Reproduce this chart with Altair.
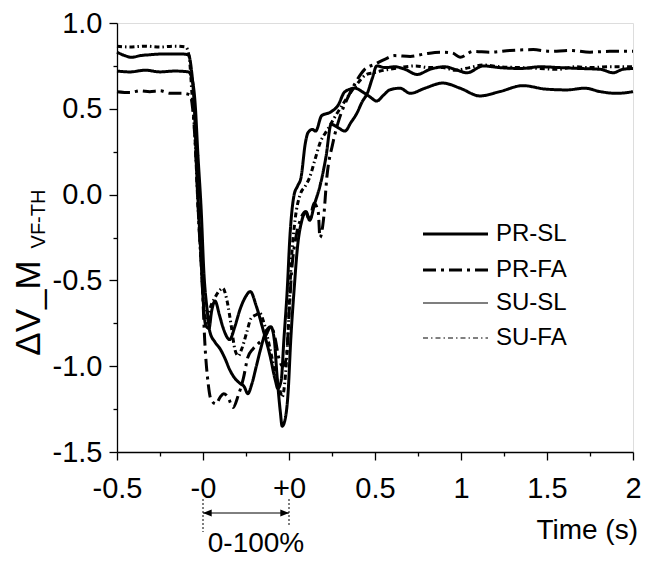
import altair as alt
import pandas as pd

# x axis positions: 0=-0.5 s, 1=onset (-0), 2=offset (+0), 3=0.5 s, 4=1 s, 5=1.5 s, 6=2 s
x_tick_pos = [0, 1, 2, 3, 4, 5, 6]
x_tick_labels = ["-0.5", "-0", "+0", "0.5", "1", "1.5", "2"]
y_tick_values = [1.0, 0.5, 0.0, -0.5, -1.0, -1.5]
y_tick_labels = ["1.0", "0.5", "0.0", "-0.5", "-1.0", "-1.5"]
series_names = ["PR-SL", "PR-FA", "SU-SL", "SU-FA"]

prsl_x = [0, .15, .33, .5, .67, .83, .87, .91, .94, .98, 1.01, 1.05, 1.08, 1.14, 1.2, 1.26, 1.31, 1.37, 1.43, 1.48,
          1.52, 1.57, 1.62, 1.67, 1.73, 1.79, 1.83, 1.86, 1.9, 1.92, 1.95, 1.99, 2.02, 2.06, 2.1, 2.15, 2.2, 2.24, 2.3,
          2.36, 2.43, 2.49, 2.57, 2.65, 2.72, 2.79, 2.85, 2.91, 2.97, 3.02, 3.12, 3.23, 3.35, 3.49, 3.64, 3.81, 3.93,
          4.07, 4.26, 4.45, 4.69, 4.92, 5.15, 5.38, 5.62, 5.77, 5.88, 6.0]
prsl_y = [.72, .715, .725, .715, .72, .715, .68, .52, .24, -.1, -.45, -.68, -.8, -.86, -.9, -.96, -1.02, -1.07, -1.1,
          -1.12, -1.16, -1.1, -1.0, -.9, -.8, -.77, -.85, -1.05, -1.27, -1.35, -1.32, -1.15, -.85, -.55, -.3, -.15, -.1,
          -.15, -.05, .05, .22, .41, .39, .37, .42, .475, .54, .59, .68, .75, .74, .745, .73, .70, .73, .745, .73, .71,
          .75, .74, .735, .745, .74, .735, .73, .71, .73, .735]

prfa_x = [0, .15, .27, .38, .5, .62, .76, .85, .88, .92, .95, .99, 1.02, 1.06, 1.09, 1.15, 1.2, 1.24, 1.29, 1.35, 1.41,
          1.47, 1.52, 1.58, 1.64, 1.72, 1.79, 1.84, 1.88, 1.93, 1.97, 2.0, 2.03, 2.08, 2.13, 2.19, 2.24, 2.29, 2.34,
          2.36, 2.4, 2.44, 2.51, 2.59, 2.67, 2.77, 2.88, 3.0, 3.12, 3.23, 3.41, 3.58, 3.76, 3.9, 3.99, 4.14, 4.34, 4.57,
          4.84, 5.03, 5.27, 5.5, 5.73, 6.0]
prfa_y = [.60, .595, .605, .6, .605, .59, .59, .58, .5, .2, -.15, -.5, -.85, -1.1, -1.19, -1.22, -1.18, -1.16, -1.18,
          -1.24, -1.17, -1.07, -.95, -.9, -.87, -.83, -.77, -.84, -.95, -1.0, -.95, -.7, -.45, -.25, -.15, -.1, -.15,
          -.05, -.1, -.25, -.15, .1, .3, .45, .55, .65, .73, .76, .79, .81, .805, .82, .83, .825, .80, .835, .83, .84,
          .845, .835, .84, .83, .835, .835]

susl_x = [0, .09, .17, .27, .38, .56, .73, .83, .86, .9, .93, .97, 1.0, 1.03, 1.07, 1.1, 1.14, 1.19, 1.23, 1.31, 1.37,
          1.43, 1.49, 1.55, 1.62, 1.7, 1.78, 1.84, 1.87, 1.91, 1.94, 1.98, 2.01, 2.06, 2.1, 2.14, 2.19, 2.22, 2.27,
          2.31, 2.38, 2.48, 2.57, 2.65, 2.77, 2.85, 2.94, 3.02, 3.1, 3.17, 3.29, 3.41, 3.58, 3.79, 3.99, 4.22, 4.45,
          4.72, 4.98, 5.23, 5.44, 5.62, 5.81, 6.0]
susl_y = [.83, .81, .80, .81, .815, .82, .82, .815, .75, .5, .1, -.3, -.6, -.76, -.78, -.68, -.62, -.7, -.77, -.845,
          -.77, -.67, -.6, -.565, -.65, -.79, -.94, -1.08, -1.13, -1.08, -.85, -.55, -.25, 0, .05, .1, .3, .36, .38,
          .37, .46, .48, .52, .6, .62, .6, .57, .545, .58, .61, .62, .59, .62, .65, .62, .575, .6, .635, .615, .61,
          .62, .6, .59, .6]

sufa_x = [0, .15, .33, .5, .67, .8, .84, .87, .91, .94, .98, 1.01, 1.05, 1.08, 1.14, 1.19, 1.23, 1.28, 1.33, 1.37, 1.41,
          1.45, 1.51, 1.56, 1.62, 1.66, 1.71, 1.78, 1.85, 1.9, 1.92, 1.95, 1.99, 2.02, 2.07, 2.13, 2.19, 2.24, 2.3,
          2.36, 2.45, 2.53, 2.63, 2.71, 2.8, 2.9, 2.98, 3.06, 3.17, 3.29, 3.47, 3.64, 3.79, 3.93, 4.1, 4.26, 4.45,
          4.69, 4.92, 5.12, 5.33, 5.5, 5.73, 6.0]
sufa_y = [.865, .86, .865, .86, .865, .86, .8, .6, .3, -.05, -.4, -.65, -.75, -.67, -.6, -.56, -.545, -.62, -.77, -.9,
          -.94, -.9, -.8, -.72, -.7, -.69, -.75, -.9, -1.06, -1.15, -1.18, -1.1, -.8, -.45, -.15, 0, .05, .1, .2, .3,
          .38, .45, .53, .59, .65, .7, .71, .72, .73, .74, .75, .74, .74, .725, .74, .755, .745, .74, .735, .73, .745,
          .74, .745, .745]

FONT = "Liberation Sans"
widths = [3, 3, 1.2, 1]
dashes = [[1, 0], [13, 5, 3, 5], [1, 0], [5, 3, 1.5, 3]]

rows = []
for name, xs, ys in zip(series_names, [prsl_x, prfa_x, susl_x, sufa_x], [prsl_y, prfa_y, susl_y, sufa_y]):
    for i, (a, b) in enumerate(zip(xs, ys)):
        rows.append({"series": name, "x": a, "y": b, "i": i})
df = pd.DataFrame(rows)

x_all = [i * 0.5 for i in range(13)]
y_all = [-1.5 + 0.25 * i for i in range(11)]
xpos_js = "[" + ",".join(str(v) for v in x_tick_pos) + "]"
xlab_js = "[" + ",".join("'" + s + "'" for s in x_tick_labels) + "]"
ypos_js = "[" + ",".join(repr(v) for v in y_tick_values) + "]"
ylab_js = "[" + ",".join("'" + s + "'" for s in y_tick_labels) + "]"

x_axis = alt.Axis(
    values=x_all,
    labelExpr=f"indexof({xpos_js}, datum.value) >= 0 ? {xlab_js}[indexof({xpos_js}, datum.value)] : ''",
    tickSize={"condition": {"test": f"indexof({xpos_js}, datum.value) >= 0", "value": 8}, "value": 4},
    title=None, grid=False, labelFontSize=29, labelPadding=14, labelFont=FONT, labelColor="black",
    domainColor="black", tickColor="black", domainWidth=1.3, tickWidth=1.3, labelFlush=False,
    labelOverlap=False,
)
y_axis = alt.Axis(
    values=y_all,
    labelExpr=f"indexof({ypos_js}, datum.value) >= 0 ? {ylab_js}[indexof({ypos_js}, datum.value)] : ''",
    tickSize={"condition": {"test": f"indexof({ypos_js}, datum.value) >= 0", "value": 8}, "value": 4},
    title=None, grid=False, labelFontSize=29, labelPadding=7, labelFont=FONT, labelColor="black",
    domainColor="black", tickColor="black", domainWidth=1.3, tickWidth=1.3, labelFlush=False,
    labelOverlap=False,
)

lines = alt.Chart(df).mark_line(color="black", interpolate="monotone", strokeCap="butt").encode(
    x=alt.X("x:Q", scale=alt.Scale(domain=[0, 6], nice=False, zero=False), axis=x_axis),
    y=alt.Y("y:Q", scale=alt.Scale(domain=[-1.5, 1.0], nice=False, zero=False), axis=y_axis),
    detail="series:N",
    order="i:Q",
    strokeWidth=alt.StrokeWidth("series:N", scale=alt.Scale(domain=series_names, range=widths), legend=None),
    strokeDash=alt.StrokeDash("series:N", scale=alt.Scale(domain=series_names, range=dashes), legend=None),
)

one = pd.DataFrame({"k": [0]})
layers = [lines]

# legend (manual)
leg_y = [211, 247, 280, 315]
for name, w, d, yy in zip(series_names, widths, dashes, leg_y):
    layers.append(alt.Chart(one).mark_rule(color="black", strokeWidth=w, strokeDash=d, strokeCap="butt").encode(
        x=alt.value(306), x2=alt.value(371), y=alt.value(yy)))
    layers.append(alt.Chart(one).mark_text(text=name, font=FONT, fontSize=24, align="left", baseline="middle",
                                           color="black").encode(x=alt.value(379), y=alt.value(yy)))

# axis titles
layers.append(alt.Chart(one).mark_text(text="Time (s)", font=FONT, fontSize=28, align="right",
                                       baseline="alphabetic", color="black").encode(
    x=alt.value(521), y=alt.value(516)))
layers.append(alt.Chart(one).mark_text(text="ΔV_M", font=FONT, fontSize=35, angle=270, align="center",
                                       baseline="alphabetic", color="black").encode(
    x=alt.value(-77), y=alt.value(285)))
layers.append(alt.Chart(one).mark_text(text="VF-TH", font=FONT, fontSize=20, angle=270, align="center",
                                       baseline="alphabetic", color="black").encode(
    x=alt.value(-72), y=alt.value(196)))

# 0-100% annotation
layers.append(alt.Chart(one).mark_rule(color="black", strokeWidth=1).encode(
    x=alt.datum(1), x2=alt.datum(2), y=alt.value(490)))
layers.append(alt.Chart(one).mark_rule(color="black", strokeWidth=1, strokeDash=[2, 2]).encode(
    x=alt.datum(1), y=alt.value(476), y2=alt.value(509)))
layers.append(alt.Chart(one).mark_rule(color="black", strokeWidth=1, strokeDash=[2, 2]).encode(
    x=alt.datum(2), y=alt.value(476), y2=alt.value(502)))
layers.append(alt.Chart(one).mark_point(shape="M 0 0 L 1 -0.4 L 1 0.4 Z", filled=True, color="black",
                                        size=300, opacity=1).encode(x=alt.datum(1), y=alt.value(490)))
layers.append(alt.Chart(one).mark_point(shape="M 0 0 L -1 -0.4 L -1 0.4 Z", filled=True, color="black",
                                        size=300, opacity=1).encode(x=alt.datum(2), y=alt.value(490)))
layers.append(alt.Chart(one).mark_text(text="0-100%", font=FONT, fontSize=28, align="center",
                                       baseline="alphabetic", color="black").encode(
    x=alt.value(139), y=alt.value(529)))

chart = alt.layer(*layers).properties(
    width=516, height=429,
    padding={"left": 109, "top": 15, "right": 10, "bottom": 105},
    autosize=alt.AutoSizeParams(type="none"),
).configure_view(stroke=None).configure(background="white")

chart.save("out.html", embed_options={"renderer": "svg", "actions": False})
